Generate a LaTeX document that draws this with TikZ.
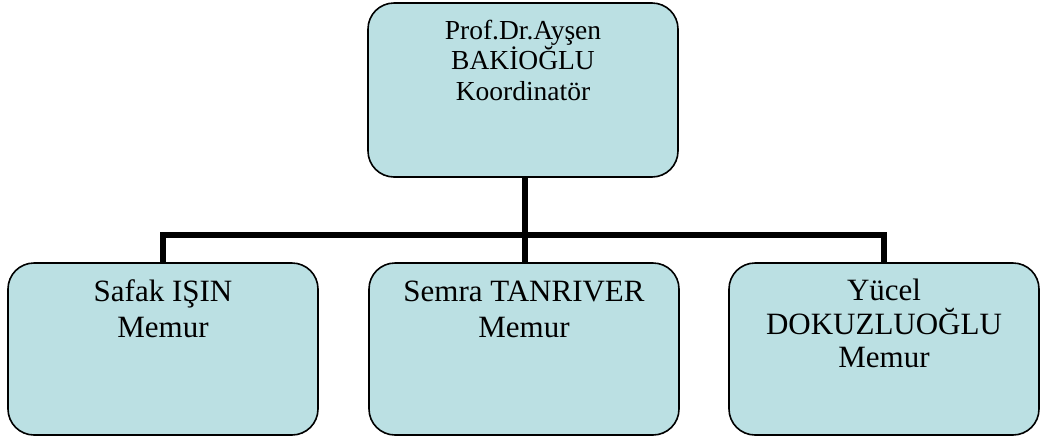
\documentclass[tikz,border=0pt]{standalone}
\usepackage{fontspec}
\setmainfont{Liberation Serif}
\usepackage{tikz}
\usetikzlibrary{positioning}
\definecolor{boxblue}{RGB}{187,224,227}
\newcommand{\boxlines}[3]{\parbox[c][#1][t]{300pt}{\centering\vspace*{#2}#3\par}}

\begin{document}
\begin{tikzpicture}[x=1pt,y=-1pt]
  \tikzstyle{unit}=[draw, fill=boxblue, rounded corners=26pt, line width=1.6pt,
minimum width=310pt, inner sep=0pt]
  \tikzstyle{link}=[line width=6pt]
  \useasboundingbox (0,0) rectangle (1040,437);

  \node[unit, font=\fontsize{27.5}{30.5}\selectfont] (B_0) at (523,90)
    {\boxlines{174pt}{17pt}{Prof.Dr.Ayşen\\BAKİOĞLU\\Koordinatör}};
  \node[unit, font=\fontsize{31}{36}\selectfont] (B_1) at (163,349)
    {\boxlines{172pt}{17pt}{Safak IŞIN\\Memur}};
  \node[unit, font=\fontsize{31}{36}\selectfont] (B_2) at (524,349)
    {\boxlines{172pt}{17.5pt}{Semra TANRIVER\\Memur}};
  \node[unit, font=\fontsize{31}{33.5}\selectfont] (B_3) at (884,349)
    {\boxlines{172pt}{16pt}{Yücel\\DOKUZLUOĞLU\\Memur}};
  \coordinate (bus) at (525,235);

  \draw[link] (B_0.south -| bus) -- (B_2.north -| bus);
  \draw[link] (B_1.north) -- (B_1.north |- bus) -- (B_3.north |- bus) -- (B_3.north);
\end{tikzpicture}
\end{document}
